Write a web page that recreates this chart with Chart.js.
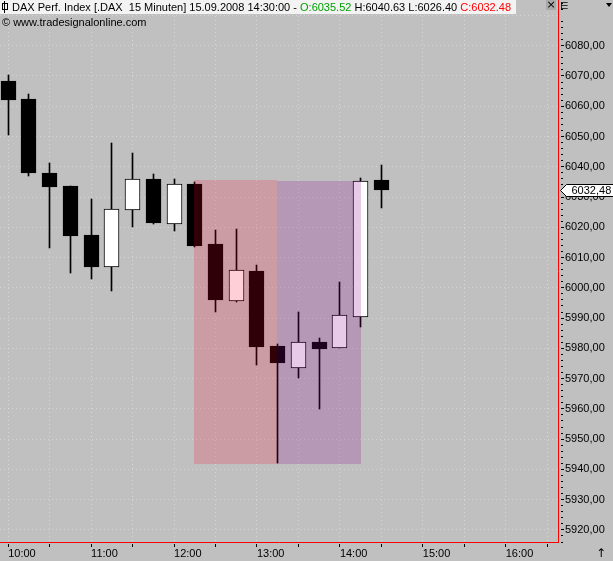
<!DOCTYPE html>
<html><head><meta charset="utf-8">
<script src="https://cdn.jsdelivr.net/npm/chart.js@4.4.0/dist/chart.umd.min.js"></script>
<style>
html,body{margin:0;padding:0;background:#c0c0c0;overflow:hidden}
#wrap{position:relative;width:613px;height:561px;font-family:'Liberation Sans',Arial,sans-serif;font-size:11px;color:#000}
#c{position:absolute;left:0;top:0}
#hdr{position:absolute;left:0;top:0;width:516px;height:14px;background:#f3f3f3;}
#hdrtxt{position:absolute;left:12px;top:0;line-height:14px;white-space:pre}
#pinbox{position:absolute;left:2px;top:3px;width:4px;height:5px;border:1px solid #000}
#pinline{position:absolute;left:4px;top:1px;width:1px;height:12px;background:#000}
#wm{position:absolute;left:2px;top:15px;line-height:14px;white-space:pre}
#close{position:absolute;left:546px;top:0;width:10px;height:10px;background:#a9a9a9;font-family:'DejaVu Sans',sans-serif;font-size:11px;line-height:10px;text-align:center}
#ico{position:absolute;left:560px;top:0;font-family:'DejaVu Sans',sans-serif;font-size:10px;line-height:12px}
#tri{position:absolute;left:606px;top:3px;width:0;height:0;border-left:3px solid transparent;border-right:3px solid transparent;border-top:4px solid #000}
#arr{position:absolute;left:596px;top:546px;font-family:'DejaVu Sans',sans-serif;font-size:12px;line-height:14px}
</style></head>
<body>
<div id="wrap">
<canvas id="c" width="613" height="561"></canvas>
<div id="hdr"><div id="pinline"></div><div id="pinbox"></div><span id="hdrtxt">DAX Perf. Index [.DAX  15 Minuten] 15.09.2008 14:30:00 - <span style="color:#00a000">O:6035.52</span> H:6040.63 L:6026.40 <span style="color:#ff0000">C:6032.48</span></span></div>
<div id="wm">© www.tradesignalonline.com</div>
<div id="close">×</div>
<div id="ico">⋿</div>
<div id="tri"></div>
<div id="arr">↑</div>
</div>
<script>
// ---- data (minutes after 10:00 for each 15-minute bar) ----
const times  = [0, 15, 30, 45, 60, 75, 90, 105, 120, 135, 150, 165, 180, 195, 210, 225, 240, 255, 270];
const opens  = [6068.3, 6062.4, 6037.9, 6033.7, 6017.5, 6006.8, 6025.8, 6036.0, 6021.2, 6034.3, 6014.5, 5995.8, 6005.6, 5980.8, 5973.6, 5982.1, 5980.2, 5990.5, 6035.52];
const highs  = [6070.3, 6064.0, 6041.3, 6033.7, 6029.4, 6047.9, 6044.6, 6037.6, 6036.0, 6035.0, 6019.1, 6019.5, 6007.6, 5981.3, 5992.0, 5983.4, 6001.9, 6036.3, 6040.63];
const lows   = [6050.5, 6037.1, 6013.3, 6005.0, 6003.0, 5999.1, 6020.2, 6021.1, 6018.9, 6013.5, 5992.0, 5995.4, 5974.6, 5942.0, 5970.3, 5960.1, 5980.2, 5987.2, 6026.40];
const closes = [6062.2, 6038.0, 6033.4, 6017.2, 6007.0, 6026.1, 6036.0, 6021.5, 6034.3, 6013.9, 5996.1, 6005.9, 5980.6, 5975.0, 5982.0, 5979.9, 5990.9, 6035.3, 6032.48];
// shaded range boxes
const zoneStart = [135, 195];
const zoneEnd   = [195, 255];
const zoneHigh  = [6035.6, 6035.3];
const zoneLow   = [5941.9, 5941.9];
// axis ranges
const X_MIN = -5.93, X_MAX = 397.83;
const Y_MIN = 5916.0, Y_MAX = 6095.1;

// ---- styles ----
const ZONE_COLORS = ['rgba(255,0,45,0.19)', 'rgba(140,0,145,0.21)'];
const GRID = 'rgba(255,255,255,0.33)';
const FONT = "'Liberation Sans', Arial, sans-serif";
Chart.defaults.font.family = FONT;
Chart.defaults.font.size = 11;
Chart.defaults.color = '#000';

const isMajor = v => Math.abs(Math.round(v) - v) < 1e-6 && Math.round(v) % 10 === 0;
const fmt = v => v.toFixed(2).replace('.', ',');
const hhmm = m => { const h = 10 + Math.floor(m / 60); const mm = m % 60; return h + ':' + (mm < 10 ? '0' : '') + mm; };

const bodyData = times.map((t, i) => ({x: t, y: [opens[i], closes[i]]}));
const wickData = times.map((t, i) => ({x: t, y: [lows[i], highs[i]]}));

const snap = {
  id: 'snap',
  beforeDatasetsDraw(chart) {
    chart.getSortedVisibleDatasetMetas().forEach(meta => {
      meta.data.forEach(el => {
        el.x = Math.floor(el.x) + 0.5;
        el.y = Math.round(el.y);
        el.base = Math.round(el.base);
      });
    });
  }
};

const zones = {
  id: 'zones',
  afterDatasetsDraw(chart) {
    const {ctx, scales: {x, y}, chartArea: a} = chart;
    ctx.save();
    ctx.beginPath(); ctx.rect(a.left, a.top, a.width, a.height); ctx.clip();
    zoneStart.forEach((s, i) => {
      const x1 = Math.floor(x.getPixelForValue(s));
      const x2 = Math.floor(x.getPixelForValue(zoneEnd[i])) + (i === zoneStart.length - 1 ? 1 : 0);
      const y1 = Math.round(y.getPixelForValue(zoneHigh[i]));
      const y2 = Math.round(y.getPixelForValue(zoneLow[i]));
      ctx.fillStyle = ZONE_COLORS[i];
      ctx.fillRect(x1, y1, x2 - x1, y2 - y1);
    });
    ctx.restore();
  }
};

const lastLabel = {
  id: 'lastLabel',
  afterDraw(chart) {
    const {ctx, scales: {y}} = chart;
    const v = closes[closes.length - 1];
    const py = Math.round(y.getPixelForValue(v)) + 0.5;
    const xl = y.left + 2.5;
    ctx.save();
    ctx.beginPath();
    ctx.moveTo(xl, py);
    ctx.lineTo(xl + 6, py - 6);
    ctx.lineTo(620, py - 6);
    ctx.lineTo(620, py + 6);
    ctx.lineTo(xl + 6, py + 6);
    ctx.closePath();
    ctx.fillStyle = '#fff'; ctx.fill();
    ctx.strokeStyle = '#000'; ctx.lineWidth = 1; ctx.stroke();
    ctx.fillStyle = '#000';
    ctx.font = '11px ' + FONT;
    ctx.textBaseline = 'middle'; ctx.textAlign = 'left';
    ctx.fillText(fmt(v), xl + 11, py);
    ctx.restore();
  }
};

new Chart(document.getElementById('c'), {
  type: 'bar',
  data: {
    datasets: [
      {label: 'body', data: bodyData, grouped: false, barThickness: 15, order: 0,
       backgroundColor: c => (closes[c.dataIndex] >= opens[c.dataIndex] ? '#ffffff' : '#000000'),
       borderColor: '#000', borderWidth: 1, borderSkipped: false},
      {label: 'wick', data: wickData, grouped: false, barThickness: 1, order: 1,
       backgroundColor: '#000', borderWidth: 0}
    ]
  },
  options: {
    responsive: false,
    animation: false,
    devicePixelRatio: 1,
    layout: {padding: 0},
    plugins: {legend: {display: false}, tooltip: {enabled: false}, title: {display: false}},
    scales: {
      x: {
        type: 'linear', position: 'bottom', min: X_MIN, max: X_MAX, offset: false,
        ticks: {stepSize: 30, includeBounds: false, autoSkip: false, maxRotation: 0, minRotation: 0,
                align: 'start', padding: 0,
                callback: v => (Math.round(v) % 60 === 0 ? hhmm(Math.round(v)) : '')},
        grid: {offset: false, drawOnChartArea: true, drawTicks: true, color: GRID, lineWidth: 1,
               tickLength: 5, tickColor: '#000', tickWidth: 1, tickBorderDash: [0, 1, 3, 30]},
        border: {display: true, color: '#ff0000', width: 1, dash: [1, 3]},
        afterFit: s => { s.height = 19; s.paddingLeft = 0; s.paddingRight = 0; }
      },
      y: {
        type: 'linear', position: 'right', min: Y_MIN, max: Y_MAX,
        ticks: {stepSize: 2, includeBounds: false, autoSkip: false, padding: 1,
                callback: v => (isMajor(v) && v < 6085 ? fmt(v) : '')},
        grid: {drawOnChartArea: true, drawTicks: true, lineWidth: 1, tickLength: 6, tickWidth: 1,
               color: c => (c.tick && isMajor(c.tick.value) ? GRID : 'rgba(0,0,0,0)'),
               tickColor: c => (c.tick && c.tick.value > 6085 && isMajor(c.tick.value) ? 'rgba(0,0,0,0)' : '#000'),
               tickBorderDash: c => (c.tick && isMajor(c.tick.value) ? [0, 2, 3, 30] : [0, 2, 2, 30])},
        border: {display: true, color: '#ff0000', width: 1, dash: [1, 3]},
        afterFit: s => { s.width = 55; s.paddingTop = 0; s.paddingBottom = 0; }
      }
    }
  },
  plugins: [snap, zones, lastLabel]
});
</script>
</body></html>
